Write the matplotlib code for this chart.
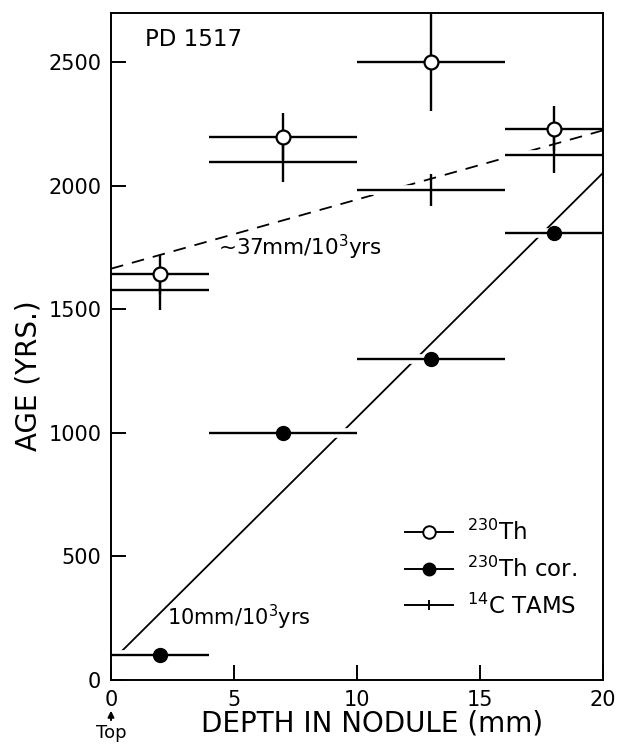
import matplotlib
matplotlib.use("Agg")
import matplotlib.pyplot as plt
from matplotlib.lines import Line2D

plt.rcParams['font.family'] = ['DejaVu Sans']
plt.rcParams['mathtext.default'] = 'regular'

# ---- data ----
depth = [2, 7, 13, 18]
depth_err = [2, 3, 3, 2]
th230 = [1642, 2200, 2500, 2232]
th230_err = [80, 95, 195, 90]
th230cor = [100, 1000, 1300, 1808]
c14 = [1577, 2098, 1985, 2126]
c14_err = [80, 80, 65, 75]

fit10_depth = [0.35, 20]
fit10_age = [108, 2053]
fit37_depth = [0, 20]
fit37_age = [1665, 2225]

xticks = [0, 5, 10, 15, 20]
yticks = [0, 500, 1000, 1500, 2000, 2500]

fig = plt.figure(figsize=(6.18, 7.46), dpi=100)
ax = fig.add_axes([0.1796, 0.0885, 0.7961, 0.894])

# fit lines
ax.plot(fit10_depth, fit10_age, color='black', lw=1.3, zorder=1)
ax.plot(fit37_depth, fit37_age, color='black', lw=1.3, ls=(0, (7, 5)), zorder=1)

# white halos under horizontal bars (drafting gaps)
for vals in (th230cor, c14):
    ax.errorbar(depth, vals, xerr=depth_err, fmt='none', ecolor='white',
                elinewidth=7, capsize=0, zorder=2)

ek = dict(ecolor='black', elinewidth=1.7, capsize=0, zorder=3)
ax.errorbar(depth, th230, xerr=depth_err, yerr=th230_err, fmt='o', ms=10,
            mfc='white', mec='black', mew=1.6, **ek)
ax.errorbar(depth, c14, xerr=depth_err, yerr=c14_err, fmt='none', **ek)
ax.errorbar(depth, th230cor, xerr=depth_err, fmt='o', ms=10,
            mfc='black', mec='black', **ek)

ax.set_xlim(0, 20)
ax.set_ylim(0, 2700)
ax.set_xticks(xticks)
ax.set_xticklabels([str(t) for t in xticks])
ax.set_yticks(yticks)
ax.set_yticklabels([str(t) for t in yticks])
ax.tick_params(direction='in', length=11, width=1.4, labelsize=15, pad=7)
for s in ax.spines.values():
    s.set_linewidth(1.4)

ax.set_xlabel('DEPTH IN NODULE (mm)', fontsize=20)
ax.xaxis.set_label_coords(0.53, -0.045)
ax.set_ylabel('AGE (YRS.)', fontsize=20)
ax.yaxis.set_label_coords(-0.14, 0.456)

ax.text(0.069, 0.96, 'PD 1517', transform=ax.transAxes, fontsize=16.5,
        ha='left', va='center')
ax.text(0.2175, 0.648, '~37mm/10$^3$yrs', transform=ax.transAxes,
        fontsize=15.5, ha='left', va='center')
ax.text(0.114, 0.094, '10mm/10$^3$yrs', transform=ax.transAxes,
        fontsize=15, ha='left', va='center')

ax.annotate('Top', xy=(0, -0.046), xycoords='axes fraction',
            xytext=(0, -0.080), textcoords='axes fraction',
            ha='center', va='center', fontsize=13,
            arrowprops=dict(arrowstyle='-|>', color='black', lw=1.4,
                            mutation_scale=9, shrinkA=1, shrinkB=0),
            annotation_clip=False)

handles = [
    Line2D([], [], color='black', lw=1.4, marker='o', ms=9, mfc='white', mec='black', mew=1.4),
    Line2D([], [], color='black', lw=1.4, marker='o', ms=9, mfc='black', mec='black'),
    Line2D([], [], color='black', lw=1.4, marker='|', ms=7, mew=1.4),
]
labels = ['$^{230}$Th', '$^{230}$Th cor.', '$^{14}$C TAMS']
ax.legend(handles, labels, loc='lower left', bbox_to_anchor=(0.575, 0.075),
          frameon=False, fontsize=16.5, handlelength=2.1, handletextpad=0.6,
          labelspacing=0.5, borderpad=0)

fig.savefig('out.png', dpi=100)
